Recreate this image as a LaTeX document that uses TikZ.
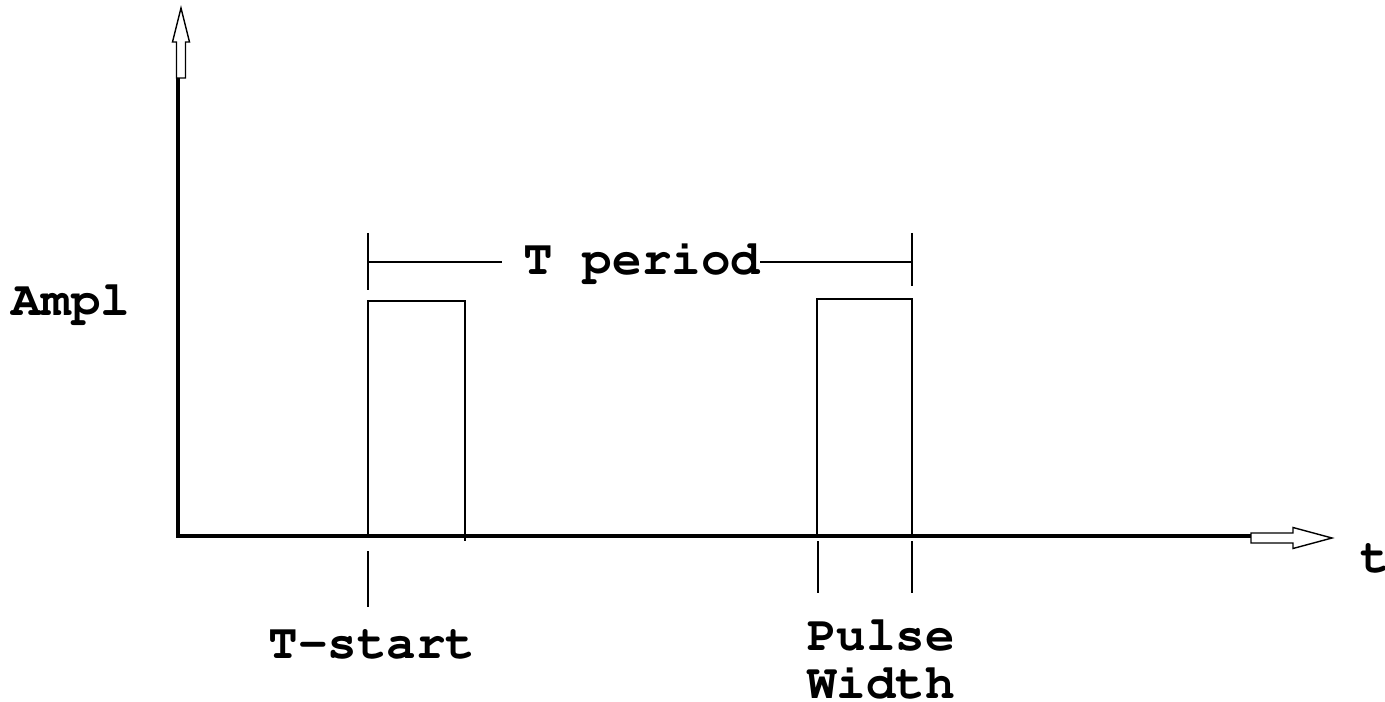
\documentclass[tikz,border=0pt]{standalone}
\usepackage[T1]{fontenc}
\usepackage{courier}
\begin{document}
\begin{tikzpicture}[x=0.02cm,y=-0.02cm,
  etiq/.style={font=\fontsize{28}{34}\selectfont\ttfamily\bfseries, anchor=base, inner sep=0pt},
  fino/.style={line width=0.9pt},
  hueca/.style={line width=0.8pt, fill=white}]
\useasboundingbox (0,0) rectangle (1385,702);
% Ejes y flechas huecas
\draw[line width=2.3pt] (178,78) -- (178,536) -- (1251,536);
\draw[hueca] (176.5,78) -- (176.5,42) -- (172.5,42) -- (181,8) -- (189.5,42) -- (185.5,42) -- (185.5,78) -- cycle;
\draw[hueca] (1251,533) -- (1293,533) -- (1293,527.5) -- (1332,538) -- (1293,548.5) -- (1293,543) -- (1251,543) -- cycle;
% Pulsos
\draw[fino] (368,536) -- (368,301) -- (465,301) -- (465,541);
\draw[fino] (817,536) -- (817,299) -- (912,299) -- (912,536);
% Marcas del periodo
\draw[fino] (368,233) -- (368,290);
\draw[fino] (912,233) -- (912,286);
\draw[fino] (368,262) -- (502,262);
\draw[fino] (760,262) -- (912,262);
% Marcas bajo el eje
\draw[fino] (368,551) -- (368,607);
\draw[fino] (818,541) -- (818,593);
\draw[fino] (912,541) -- (912,593);
\node[etiq] (ampl) at (71,316) {Ampl};
\node[etiq] (tper) at (642,275) {T period};
\node[etiq] (tstart) at (372,658) {T-start};
\node[etiq] (pulso) at (881,650) {Pulse};
\node[etiq] (ancho) at (881,698) {Width};
\node[etiq] (teje) at (1375,572) {t};
\end{tikzpicture}
\end{document}
